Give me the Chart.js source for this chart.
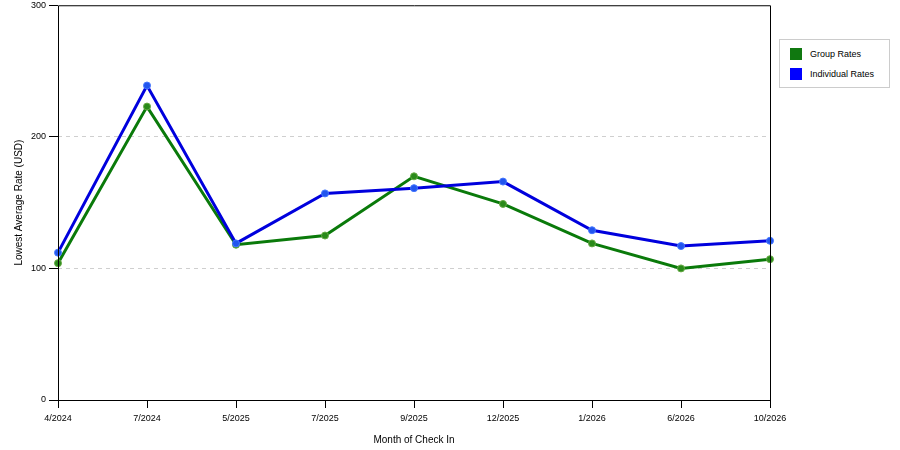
<!DOCTYPE html>
<html>
<head>
<meta charset="utf-8">
<script src="https://cdn.jsdelivr.net/npm/chart.js@4/dist/chart.umd.min.js"></script>
<style>
  body { margin: 0; background: #fff; }
  #wrap { position: relative; width: 900px; height: 450px; }
  #legend {
    position: absolute; left: 779px; top: 39px; width: 109px; height: 47px;
    border: 1px solid #ccc; background: #fff;
    font-family: "Liberation Sans", Arial, sans-serif; font-size: 9px; color: #000;
  }
  #legend div { position: absolute; left: 10px; height: 12px; line-height: 12px; }
  #legend span { display: inline-block; width: 12px; height: 12px; vertical-align: top; margin-right: 8px; }
</style>
</head>
<body>
<div id="wrap">
  <canvas id="myChart" width="900" height="450"></canvas>
  <div id="legend">
    <div style="top:8px"><span style="background:#107810"></span>Group Rates</div>
    <div style="top:28px"><span style="background:#0000ff"></span>Individual Rates</div>
  </div>
</div>
<script>
var months = ["4/2024", "7/2024", "5/2025", "7/2025", "9/2025", "12/2025", "1/2026", "6/2026", "10/2026"];
var groupRates = [104, 223, 118, 125, 170, 149, 119, 100, 107];
var individualRates = [112, 239, 119, 157, 161, 166, 129, 117, 121];
var yTicks = [0, 100, 200, 300];

Chart.defaults.font.family = "'Liberation Sans', Arial, sans-serif";
Chart.defaults.font.size = 9;
Chart.defaults.color = "#000";

// box around the plot area (axes + top/right edges)
var frame = {
  id: "frame",
  afterDatasetsDraw: function(chart) {
    var a = chart.chartArea, ctx = chart.ctx;
    ctx.save();
    ctx.strokeStyle = "#000";
    ctx.lineWidth = 1;
    ctx.setLineDash([]);
    ctx.beginPath();
    ctx.moveTo(a.left + 0.5, a.bottom + 0.5);
    ctx.lineTo(a.left + 0.5, a.top + 0.5);
    ctx.lineTo(a.right + 0.5, a.top + 0.5);
    ctx.lineTo(a.right + 0.5, a.bottom + 0.5);
    ctx.lineTo(a.left + 0.5, a.bottom + 0.5);
    ctx.stroke();
    ctx.restore();
  }
};

new Chart("myChart", {
  type: "line",
  data: {
    labels: months,
    datasets: [{
      label: "Individual Rates",
      data: individualRates,
      borderColor: "#0000dd",
      backgroundColor: "#2255ee",
      pointBorderColor: "#4477ff",
      borderWidth: 3,
      pointRadius: 3.5,
      pointBorderWidth: 1,
      lineTension: 0,
      fill: false,
      clip: false,
      order: 0
    }, {
      label: "Group Rates",
      data: groupRates,
      borderColor: "#0a7a0a",
      backgroundColor: "#2a8a1a",
      pointBorderColor: "#66aa44",
      borderWidth: 3,
      pointRadius: 3.5,
      pointBorderWidth: 1,
      lineTension: 0,
      fill: false,
      clip: false,
      order: 1
    }]
  },
  options: {
    responsive: false,
    animation: false,
    layout: { padding: { left: 0, right: 130, top: 0, bottom: 0 } },
    plugins: { legend: { display: false }, tooltip: { enabled: false } },
    scales: {
      x: {
        offset: false,
        grid: { drawOnChartArea: false, tickLength: 8, tickColor: "#000" },
        border: { display: false },
        ticks: { maxRotation: 0, autoSkip: false, padding: 5 },
        title: { display: true, text: "Month of Check In", font: { size: 10 }, padding: { top: 6 } },
        afterFit: function(s) { s.height = 50; }
      },
      y: {
        min: 0, max: 300,
        afterBuildTicks: function(s) { s.ticks = yTicks.map(function(v) { return { value: v }; }); },
        grid: {
          color: function(c) { return (c.tick.value === 100 || c.tick.value === 200) ? "#cfcfcf" : "rgba(0,0,0,0)"; },
          tickColor: "#000",
          tickLength: 9,
          tickBorderDash: []
        },
        border: { display: false, dash: [4, 4] },
        ticks: { padding: 3, font: { lineHeight: 0.5 } },
        title: { display: true, text: "Lowest Average Rate (USD)", font: { size: 10 }, padding: { top: 13, bottom: 0 } },
        afterFit: function(s) { s.width = 58; }
      }
    }
  },
  plugins: [frame]
});
</script>
</body>
</html>
